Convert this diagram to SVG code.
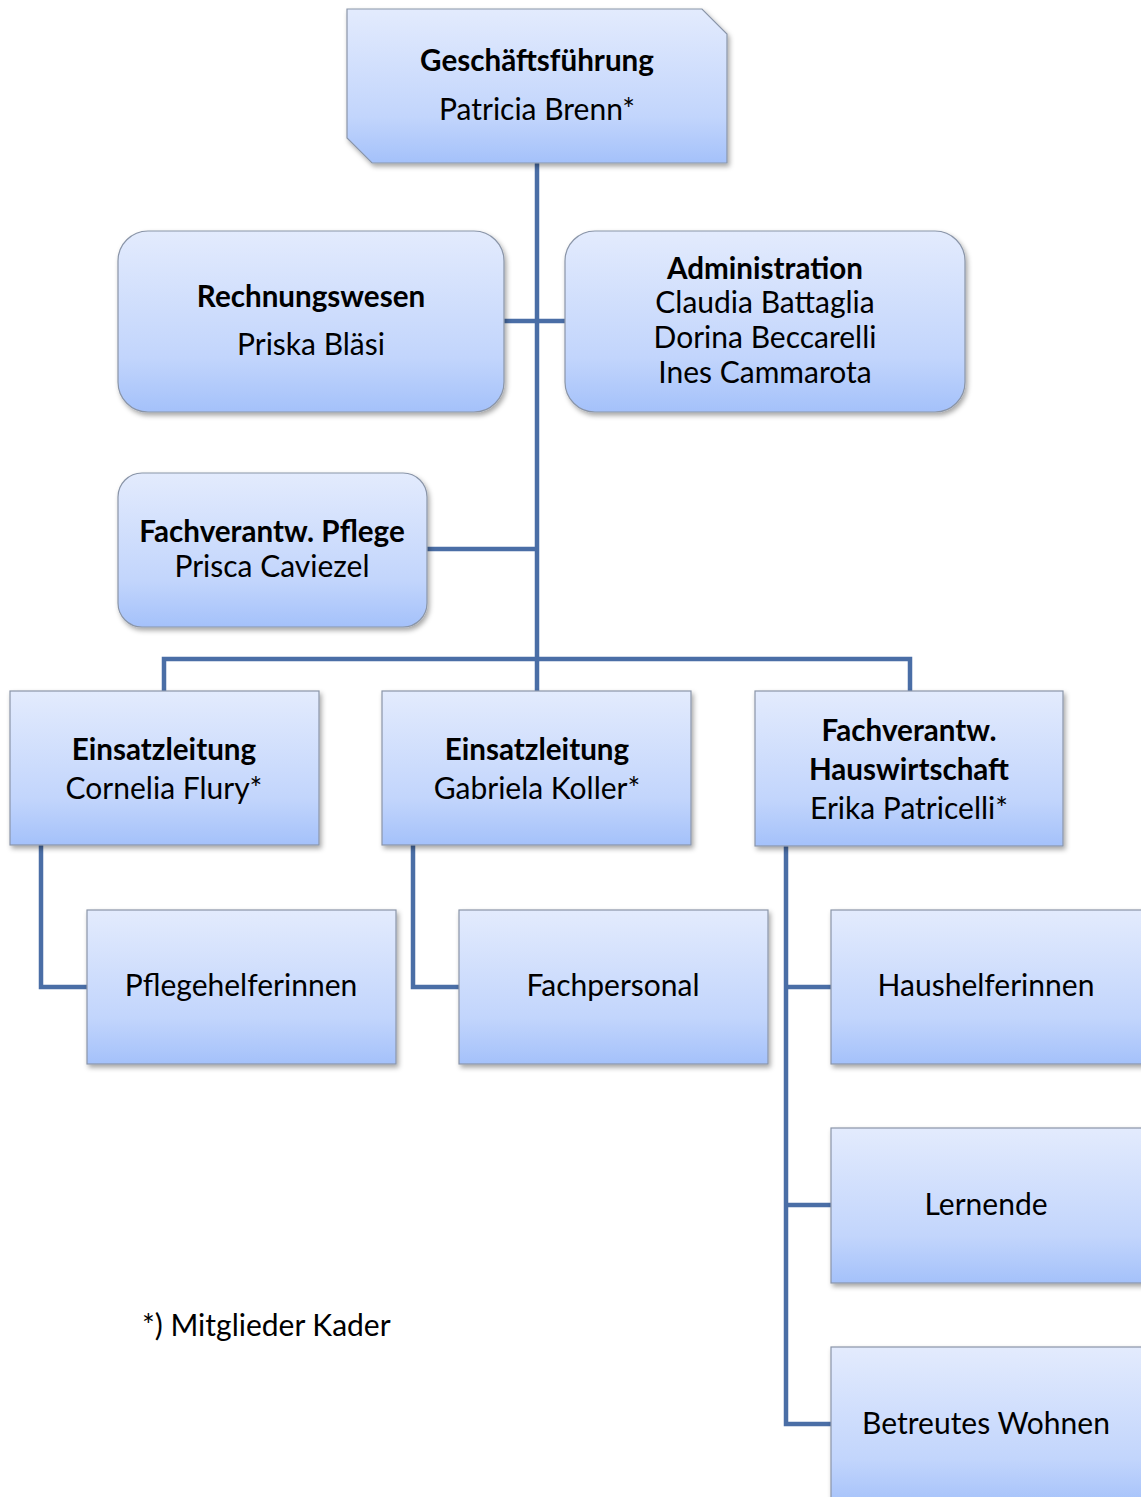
<svg xmlns="http://www.w3.org/2000/svg" width="1141" height="1497" viewBox="0 0 1141 1497">
<defs>
<linearGradient id="g" x1="0" y1="0" x2="0" y2="1">
<stop offset="0" stop-color="#e3ebfd"/>
<stop offset="0.7" stop-color="#c2d5fc"/>
<stop offset="1" stop-color="#a4c1fa"/>
</linearGradient>
<filter id="sh" x="-10%" y="-10%" width="125%" height="130%">
<feDropShadow dx="2" dy="3" stdDeviation="2.5" flood-color="#000" flood-opacity="0.35"/>
</filter>
</defs>
<style>
.box{fill:url(#g);stroke:#8a95a8;stroke-width:1.2;filter:url(#sh)}
.c{fill:none;stroke:#4a6ea6;stroke-width:4.5}
text{font-family:Lato,"Liberation Sans",sans-serif;font-size:30px;fill:#000;text-anchor:middle}
.b{font-weight:bold;font-size:29.6px}
</style>
<rect width="1141" height="1497" fill="#fff"/>
<g id="connectors">
<path class="c" d="M537 163V691"/>
<path class="c" d="M504 321H565"/>
<path class="c" d="M427 549H537"/>
<path class="c" d="M164 691V659H910V691"/>
<path class="c" d="M41 845V987H87"/>
<path class="c" d="M413 845V987H459"/>
<path class="c" d="M786 846V1424H831M786 987H831M786 1205H831"/>
</g>
<g id="n-geschaeftsfuehrung">
<path class="box" d="M347 9H702L727 34V163H372L347 138Z"/>
<text x="537" y="71" class="b">Geschäftsführung</text>
<text x="537" y="120">Patricia Brenn*</text>
</g>
<g id="n-rechnungswesen">
<rect class="box" x="118" y="231" width="386" height="181" rx="30"/>
<text x="311" y="307" class="b">Rechnungswesen</text>
<text x="311" y="355">Priska Bläsi</text>
</g>
<g id="n-administration">
<rect class="box" x="565" y="231" width="400" height="181" rx="30"/>
<text x="765" y="279" class="b">Administration</text>
<text x="765" y="313">Claudia Battaglia</text>
<text x="765" y="348">Dorina Beccarelli</text>
<text x="765" y="383">Ines Cammarota</text>
</g>
<g id="n-pflege">
<rect class="box" x="118" y="473" width="309" height="154" rx="24"/>
<text x="272" y="542" class="b">Fachverantw. Pflege</text>
<text x="272" y="577">Prisca Caviezel</text>
</g>
<g id="n-einsatz1">
<rect class="box" x="10" y="691" width="309" height="154"/>
<text x="164" y="760" class="b">Einsatzleitung</text>
<text x="164" y="799">Cornelia Flury*</text>
</g>
<g id="n-einsatz2">
<rect class="box" x="382" y="691" width="309" height="154"/>
<text x="537" y="760" class="b">Einsatzleitung</text>
<text x="537" y="799">Gabriela Koller*</text>
</g>
<g id="n-hauswirtschaft">
<rect class="box" x="755" y="691" width="308" height="155"/>
<text x="909" y="741" class="b">Fachverantw.</text>
<text x="909" y="780" class="b">Hauswirtschaft</text>
<text x="909" y="819">Erika Patricelli*</text>
</g>
<g id="n-pflegehelferinnen">
<rect class="box" x="87" y="910" width="309" height="154"/>
<text x="241" y="996">Pflegehelferinnen</text>
</g>
<g id="n-fachpersonal">
<rect class="box" x="459" y="910" width="309" height="154"/>
<text x="613" y="996">Fachpersonal</text>
</g>
<g id="n-haushelferinnen">
<rect class="box" x="831" y="910" width="315" height="154"/>
<text x="986" y="996">Haushelferinnen</text>
</g>
<g id="n-lernende">
<rect class="box" x="831" y="1128" width="315" height="155"/>
<text x="986" y="1215">Lernende</text>
</g>
<g id="n-betreutes">
<rect class="box" x="831" y="1347" width="315" height="160"/>
<text x="986" y="1434">Betreutes Wohnen</text>
</g>
<text x="142" y="1336" style="text-anchor:start">*) Mitglieder Kader</text>
</svg>
